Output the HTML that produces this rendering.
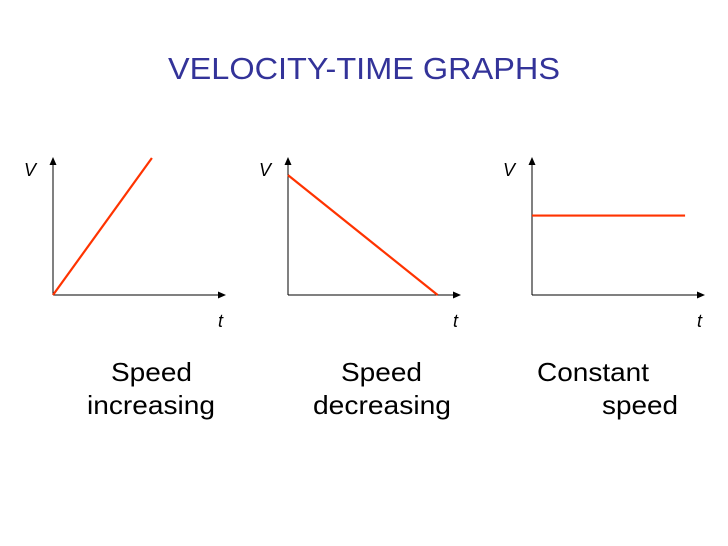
<!DOCTYPE html>
<html><head><meta charset="utf-8"><style>
html,body{margin:0;padding:0;background:#fff;}
svg{display:block;font-family:"Liberation Sans",Arial,sans-serif;}
</style></head><body>
<svg id="s" width="728" height="546" viewBox="0 0 728 546">
<defs><marker id="ah" markerWidth="8" markerHeight="8" refX="7" refY="4" orient="auto" markerUnits="userSpaceOnUse"><path d="M0,0.5 L8,4 L0,7.5 Z" fill="#000"/></marker></defs>
<text x="168" y="79" font-size="31" fill="#333399" textLength="392" lengthAdjust="spacingAndGlyphs">VELOCITY-TIME GRAPHS</text>
<g id="charts"></g>
<g font-size="26" fill="#000">
<text x="111" y="381" textLength="81" lengthAdjust="spacingAndGlyphs">Speed</text>
<text x="87" y="414" textLength="128" lengthAdjust="spacingAndGlyphs">increasing</text>
<text x="341" y="381" textLength="81" lengthAdjust="spacingAndGlyphs">Speed</text>
<text x="313" y="414" textLength="138" lengthAdjust="spacingAndGlyphs">decreasing</text>
<text x="537" y="381" textLength="112" lengthAdjust="spacingAndGlyphs">Constant</text>
<text x="602" y="414" textLength="76" lengthAdjust="spacingAndGlyphs">speed</text>
</g>
</svg>
<script>
// data in axis units (t: 0..10, v: 0..10)
const chartNames = ["speed-increasing", "speed-decreasing", "constant-speed"];
const seriesT = [[0, 5.75], [0, 8.7], [0, 8.9]];
const seriesV = [[0, 10], [8.75, 0], [5.8, 5.8]];
const originsX = [53, 288, 532];
const NS = "http://www.w3.org/2000/svg";
const g = document.getElementById("charts");
const oy = 295, W = 172, H = 137;
function mk(tag, attrs) { const e = document.createElementNS(NS, tag); for (const k in attrs) e.setAttribute(k, attrs[k]); g.appendChild(e); return e; }
chartNames.forEach((name, i) => {
  const ox = originsX[i];
  const xs = t => ox + t / 10 * W;
  const ys = v => oy - v / 10 * H;
  let e = mk("line", {x1: ox, y1: oy, x2: ox, y2: oy - H, stroke: "#000", "stroke-width": 1, "marker-end": "url(#ah)"});
  
  
  e = mk("line", {x1: ox, y1: oy, x2: ox + W, y2: oy, stroke: "#000", "stroke-width": 1, "marker-end": "url(#ah)"});
  
  
  e = mk("text", {x: ox - 29, y: 176, "font-size": 18, "font-style": "italic"});
  e.textContent = "V";
  
  
  e = mk("text", {x: ox + 165, y: 327, "font-size": 18, "font-style": "italic"});
  e.textContent = "t";
  
  
  const pts = seriesT[i].map((t, j) => xs(t) + "," + ys(seriesV[i][j])).join(" ");
  e = mk("polyline", {points: pts, fill: "none", stroke: "#ff3300", "stroke-width": 2.2});
  
  
});
</script>
</body></html>
